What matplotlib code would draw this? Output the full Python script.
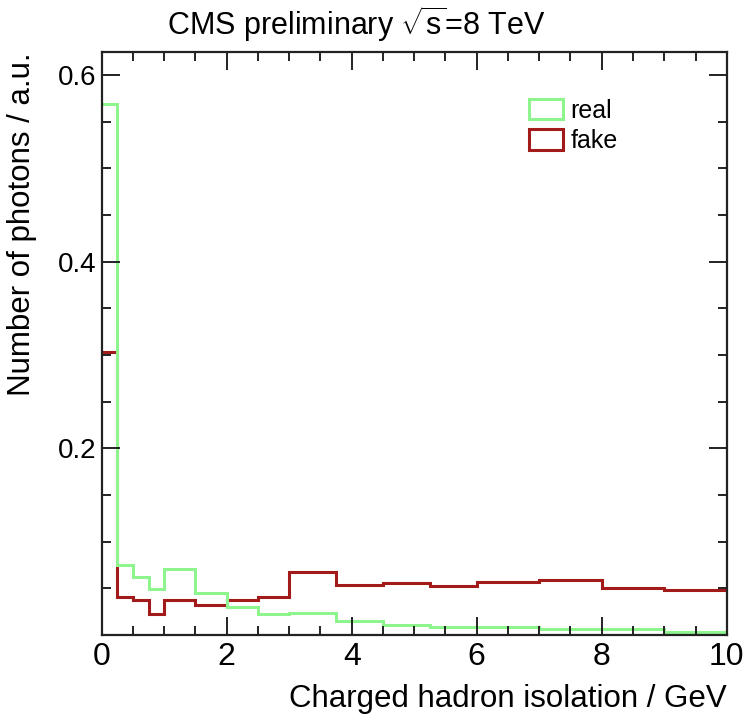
import numpy as np
import matplotlib
matplotlib.use('Agg')
import matplotlib.pyplot as plt
from matplotlib.patches import Patch
from matplotlib.ticker import MultipleLocator

# Bin edges (variable width) of the charged hadron isolation histograms
bordes = [0, 0.25, 0.5, 0.75, 1.0, 1.5, 2.0, 2.5, 3.0, 3.75, 4.5, 5.25, 6.0, 7.0, 8.0, 9.0, 10.0]

# Normalised content of each bin
real = [0.569, 0.075, 0.062, 0.049, 0.071, 0.045, 0.030, 0.022, 0.024, 0.015, 0.011,
        0.008, 0.008, 0.006, 0.006, 0.0035]
fake = [0.303, 0.041, 0.037, 0.022, 0.037, 0.032, 0.037, 0.041, 0.067, 0.054, 0.056,
        0.052, 0.057, 0.059, 0.050, 0.048]

etiquetas = ['real', 'fake']
color_real = '#8ef58e'
color_fake = '#a31a1a'

plt.rcParams['font.family'] = ['Liberation Sans', 'DejaVu Sans']
plt.rcParams['mathtext.fontset'] = 'custom'
plt.rcParams['mathtext.rm'] = 'Liberation Sans'

fig = plt.figure(figsize=(7.48, 7.2), dpi=100)
ax = fig.add_axes([0.136, 0.1182, 0.8356, 0.8092])

# Dibujamos los dos histogramas (sin lineas verticales en los extremos)
ax.stairs(fake, bordes, color=color_fake, lw=2.2, baseline=None)
ax.stairs(real, bordes, color=color_real, lw=2.2, baseline=None)

ax.set_xlim(0, 10)
ax.set_ylim(0, 0.6245)

# Ejes al estilo ROOT
ax.xaxis.set_major_locator(MultipleLocator(2))
ax.xaxis.set_minor_locator(MultipleLocator(0.5))
ax.set_yticks([0.2, 0.4, 0.6])
ax.yaxis.set_minor_locator(MultipleLocator(0.05))
ax.tick_params(which='both', direction='in', top=True, right=True, width=1.4, color='#222222')
ax.tick_params(which='major', length=13)
ax.tick_params(which='minor', length=6.5)
ax.tick_params(axis='x', labelsize=23, pad=5)
ax.tick_params(axis='y', labelsize=20, pad=4)
for s in ax.spines.values():
    s.set_linewidth(1.6)
    s.set_color('#222222')
    s.set_zorder(3)

ax.set_xlabel('Charged hadron isolation / GeV', fontsize=22.5, ha='right')
ax.xaxis.set_label_coords(1.0, -0.085)
ax.set_ylabel('Number of photons / a.u.', fontsize=22.5, ha='right')
ax.yaxis.set_label_coords(-0.1035, 1.0)

fig.text(0.476, 1 - 35 / 720, r'CMS preliminary $\sqrt{\mathrm{s}}$=8 TeV', fontsize=22,
         ha='center', va='baseline')

manejadores = [Patch(facecolor='none', edgecolor=color_real, lw=2.2),
               Patch(facecolor='none', edgecolor=color_fake, lw=2.2)]
ax.legend(manejadores, etiquetas, loc='upper left', bbox_to_anchor=(0.684, 0.92),
          frameon=False, fontsize=18, handlelength=1.36, handleheight=0.88,
          handletextpad=0.3, labelspacing=0.25, borderpad=0, borderaxespad=0)

fig.savefig('out.png', dpi=100)
